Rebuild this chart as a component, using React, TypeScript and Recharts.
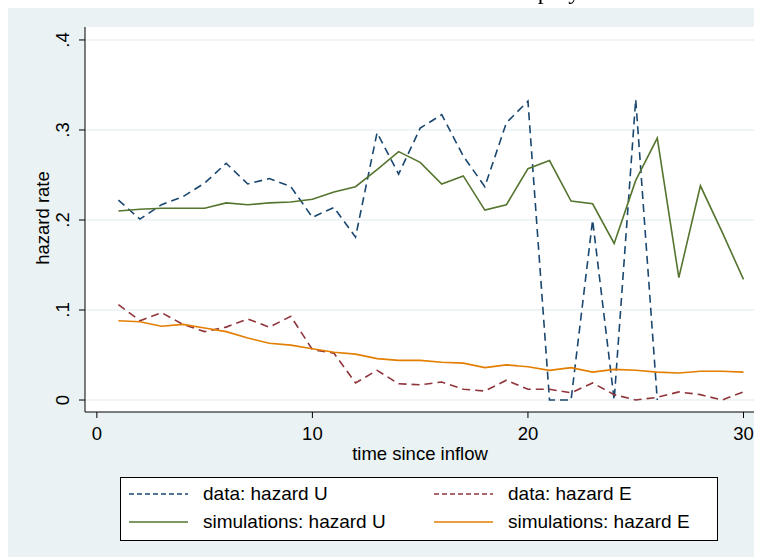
import React from 'react';
import { LineChart, Line, XAxis, YAxis, CartesianGrid, Label } from 'recharts';

const periods = [1, 2, 3, 4, 5, 6, 7, 8, 9, 10, 11, 12, 13, 14, 15, 16, 17, 18, 19, 20, 21, 22, 23, 24, 25, 26, 27, 28, 29, 30];

const dataHazardU = [0.222, 0.201, 0.217, 0.226, 0.241, 0.263, 0.240, 0.246, 0.237, 0.203, 0.214, 0.181, 0.297, 0.251, 0.302, 0.317, 0.271, 0.237, 0.308, 0.332, 0, 0, 0.2, 0, 0.334, 0];
const dataHazardE = [0.106, 0.088, 0.097, 0.084, 0.076, 0.081, 0.090, 0.081, 0.093, 0.056, 0.052, 0.019, 0.033, 0.018, 0.017, 0.020, 0.012, 0.010, 0.022, 0.012, 0.012, 0.008, 0.019, 0.006, 0.000, 0.003, 0.009, 0.006, 0.000, 0.009];
const simHazardU = [0.210, 0.212, 0.213, 0.213, 0.213, 0.219, 0.217, 0.219, 0.220, 0.223, 0.231, 0.237, 0.256, 0.276, 0.264, 0.240, 0.249, 0.211, 0.217, 0.257, 0.266, 0.221, 0.218, 0.174, 0.244, 0.291, 0.136, 0.238, 0.187, 0.134];
const simHazardE = [0.088, 0.087, 0.082, 0.084, 0.080, 0.076, 0.069, 0.063, 0.061, 0.057, 0.053, 0.051, 0.046, 0.044, 0.044, 0.042, 0.041, 0.036, 0.039, 0.037, 0.033, 0.036, 0.031, 0.034, 0.033, 0.031, 0.030, 0.032, 0.032, 0.031];

const xTicks = [0, 10, 20, 30];
const yTicks = [0, 0.1, 0.2, 0.3, 0.4];
const yTickLabels = ['0', '.1', '.2', '.3', '.4'];

const NAVY = '#1A476F';
const MAROON = '#90353B';
const GREEN = '#55752F';
const ORANGE = '#E37E00';
const BG = '#EAF2F3';
const FONT = '"Liberation Sans", Arial, sans-serif';
const AXIS_FS = 18.5;

const rows = periods.map((t, i) => ({
  t,
  dataU: dataHazardU[i],
  dataE: dataHazardE[i],
  simU: simHazardU[i],
  simE: simHazardE[i],
}));

const legendItems = [
  { label: 'data: hazard U', color: NAVY, dash: '5 3' },
  { label: 'data: hazard E', color: MAROON, dash: '5 3' },
  { label: 'simulations: hazard U', color: GREEN, dash: undefined },
  { label: 'simulations: hazard E', color: ORANGE, dash: undefined },
];

function YTick(props: any) {
  const { y, payload } = props;
  const idx = yTicks.indexOf(payload.value);
  const label = idx >= 0 ? yTickLabels[idx] : String(payload.value);
  return (
    <text x={55} y={y} transform={`rotate(-90 55 ${y})`} textAnchor="middle" dominantBaseline="central"
      fontFamily={FONT} fontSize={AXIS_FS} fill="#000">
      {label}
    </text>
  );
}

function XTick(props: any) {
  const { x, payload } = props;
  return (
    <text x={x} y={425} textAnchor="middle" dominantBaseline="central" fontFamily={FONT} fontSize={AXIS_FS} fill="#000">
      {payload.value}
    </text>
  );
}

function Legend() {
  return (
    <div style={{
      position: 'absolute', left: 112, top: 469, width: 596, height: 62,
      background: '#fff', border: '1px solid #000', fontFamily: FONT, fontSize: 19,
    }}>
      {legendItems.map((item, i) => {
        const col = i % 2;
        const row = Math.floor(i / 2);
        const left = col === 0 ? 8 : 313;
        const top = row === 0 ? 16 : 44;
        return (
          <div key={item.label} style={{ position: 'absolute', left, top: top - 11, height: 22, display: 'flex', alignItems: 'center', whiteSpace: 'nowrap' }}>
            <svg width={60} height={22}>
              <line x1={0} y1={11} x2={59} y2={11} stroke={item.color} strokeWidth={1.5} strokeDasharray={item.dash} />
            </svg>
            <span style={{ marginLeft: 14 }}>{item.label}</span>
          </div>
        );
      })}
    </div>
  );
}

export default function App() {
  return (
    <>
      <svg width={762} height={8} style={{ position: 'fixed', left: 0, top: 0 }}>
        <text x={479} y={-1} fontFamily='"Liberation Serif", serif' fontSize={24} fill="#000">Unemployment</text>
      </svg>
      <div style={{ position: 'relative', width: 754, height: 549, background: BG }}>
        <LineChart width={754} height={549} data={rows} margin={{ top: 19, right: 6, bottom: 115, left: 17 }}>
          <CartesianGrid horizontal vertical={false} fill="#fff" stroke={BG} strokeWidth={1.5} horizontalValues={yTicks} />
          <XAxis dataKey="t" type="number" domain={[-0.55, 30.58]} ticks={xTicks} allowDataOverflow
            height={30} tickSize={6} stroke="#000" tickLine={{ stroke: '#000' }} tick={<XTick />} interval={0}>
            <Label content={() => (
              <text x={412} y={445} textAnchor="middle" dominantBaseline="central" fontFamily={FONT} fontSize={AXIS_FS} fill="#000">
                time since inflow
              </text>
            )} />
          </XAxis>
          <YAxis type="number" domain={[-0.0133, 0.4144]} ticks={yTicks} allowDataOverflow width={60}
            tickSize={6} stroke="#000" tickLine={{ stroke: '#000' }} tick={<YTick />} interval={0}>
            <Label content={() => (
              <text x={34} y={210} transform="rotate(-90 34 210)" textAnchor="middle" dominantBaseline="central"
                fontFamily={FONT} fontSize={AXIS_FS} fill="#000">
                hazard rate
              </text>
            )} />
          </YAxis>
          <Line type="linear" dataKey="dataU" stroke={NAVY} strokeWidth={1.6} strokeDasharray="8 5" dot={false} isAnimationActive={false} />
          <Line type="linear" dataKey="dataE" stroke={MAROON} strokeWidth={1.6} strokeDasharray="8 5" dot={false} isAnimationActive={false} />
          <Line type="linear" dataKey="simU" stroke={GREEN} strokeWidth={1.6} dot={false} isAnimationActive={false} />
          <Line type="linear" dataKey="simE" stroke={ORANGE} strokeWidth={1.6} dot={false} isAnimationActive={false} />
        </LineChart>
        <Legend />
      </div>
    </>
  );
}
